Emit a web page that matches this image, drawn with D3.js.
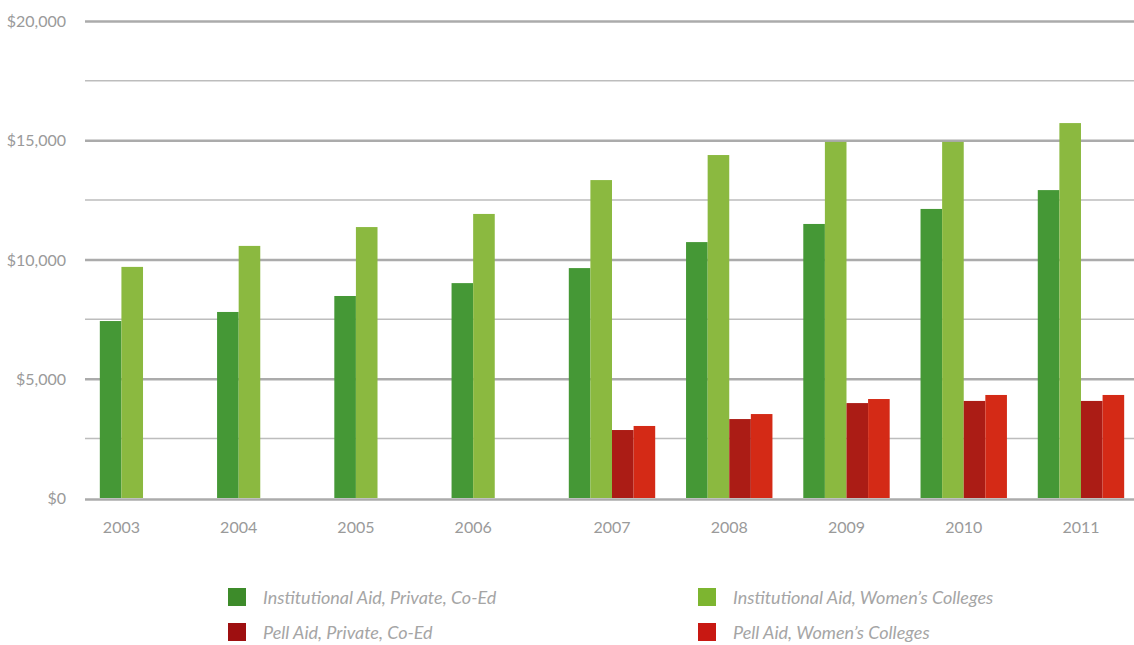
<!DOCTYPE html>
<html>
<head>
<meta charset="utf-8">
<script src="https://cdn.jsdelivr.net/npm/d3@7"></script>
<style>
	body{margin:0;background:#fff;}
	.chart{width:1134px;height:645px;}
	text{font-family:Lato, "Open Sans", sans-serif;}
</style>
</head>
<body>
<div class="chart"></div>
<script>
//Chart values
const years = [2003, 2004, 2005, 2006, 2007, 2008, 2009, 2010, 2011];
const instCoEd = [7420, 7800, 8470, 9010, 9640, 10730, 11490, 12120, 12910];
const instWomen = [9690, 10570, 11360, 11910, 13330, 14380, 14930, 14930, 15720];
const pellCoEd = [null, null, null, null, 2850, 3310, 3980, 4070, 4070];
const pellWomen = [null, null, null, null, 3020, 3520, 4150, 4320, 4320];
const seriesNames = ['Institutional Aid, Private, Co-Ed', 'Institutional Aid, Women\u2019s Colleges',
	'Pell Aid, Private, Co-Ed', 'Pell Aid, Women\u2019s Colleges'];
const seriesColors = ['#459836', '#8bb940', '#ab1c15', '#d42a16'];
const legendColors = ['#3d8b2a', '#7db530', '#9e0f10', '#c81812'];
const yMajorTicks = [0, 5000, 10000, 15000, 20000];
const yMinorTicks = [2500, 7500, 12500, 17500];

//Prep work
const W = 1134;
const H = 645;
const margin = {t:21, r:0, b:147, l:85};
const w = W - margin.l - margin.r;
const h = H - margin.t - margin.b;

const svg = d3.select('.chart')
	.append('svg')
		.attr('width', W)
		.attr('height', H);

const plot = svg.append('g')
	.attr('class','plot')
	.attr('transform', `translate(${margin.l}, ${margin.t})`);

const seriesValues = [instCoEd, instWomen, pellCoEd, pellWomen];

//Scales (the last band runs a little past the right edge, as in the original)
const scaleX = d3.scaleBand().domain(years).range([-0.6, 1054.6]);
const scaleInner = d3.scaleBand().domain(d3.range(4)).range([-43.2, 43.2]);
const scaleY = d3.scaleLinear().domain([0, 20000]).range([h, 0]);

//Gridlines
plot.selectAll('.grid-minor')
	.data(yMinorTicks)
	.enter()
	.append('line').attr('class','grid-minor')
	.attr('x1', 0).attr('x2', w)
	.attr('y1', d => scaleY(d)).attr('y2', d => scaleY(d))
	.style('stroke', '#bdbdbd')
	.style('stroke-width', '1.5px');

plot.selectAll('.grid-major')
	.data(yMajorTicks)
	.enter()
	.append('line').attr('class','grid-major')
	.attr('x1', 0).attr('x2', w)
	.attr('y1', d => scaleY(d) + (d === 0 ? 1.5 : 0.5)).attr('y2', d => scaleY(d) + (d === 0 ? 1.5 : 0.5))
	.style('stroke', '#ababab')
	.style('stroke-width', '2.5px');

//Y axis labels
const fmt = d3.format('$,');
plot.selectAll('.y-label')
	.data(yMajorTicks)
	.enter()
	.append('text').attr('class','y-label')
	.attr('x', -19)
	.attr('y', d => scaleY(d) + 6)
	.attr('text-anchor', 'end')
	.style('font-size', '16px')
	.style('fill', '#9a9a9a')
	.text(d => fmt(d));

//Bars
const groups = plot.selectAll('.year')
	.data(years)
	.enter()
	.append('g').attr('class','year')
	.attr('transform', d => `translate(${scaleX(d) + scaleX.bandwidth() / 2}, 0)`);

groups.selectAll('rect')
	.data(function(d, i){
		return seriesValues.map(function(vals, s){ return {s:s, value:vals[i]}; })
			.filter(function(v){ return v.value !== null; });
	})
	.enter()
	.append('rect')
	.attr('x', d => scaleInner(d.s))
	.attr('width', scaleInner.bandwidth())
	.attr('y', d => scaleY(d.value))
	.attr('height', d => h - scaleY(d.value))
	.style('fill', d => seriesColors[d.s]);

//X labels, centred on the bars that are drawn
groups.append('text')
	.attr('x', function(d, i){
		const drawn = seriesValues.map((vals, s) => vals[i] === null ? null : s).filter(s => s !== null);
		const x0 = scaleInner(d3.min(drawn));
		const x1 = scaleInner(d3.max(drawn)) + scaleInner.bandwidth();
		return (x0 + x1) / 2;
	})
	.attr('y', h + 35)
	.attr('text-anchor', 'middle')
	.style('font-size', '16px')
	.style('fill', '#9a9a9a')
	.text(d => d);

//Legend
const legend = svg.append('g').attr('class','legend');
const legendItems = legend.selectAll('.legend-item')
	.data(seriesNames)
	.enter()
	.append('g').attr('class','legend-item')
	.attr('transform', function(d, i){
		const col = i % 2, row = Math.floor(i / 2);
		return `translate(${228 + col * 470}, ${588 + row * 35})`;
	});

legendItems.append('rect')
	.attr('width', 18).attr('height', 18)
	.style('fill', (d, i) => legendColors[i]);

legendItems.append('text')
	.attr('x', 35)
	.attr('y', 16)
	.style('font-size', '18px')
	.style('font-style', 'italic')
	.style('fill', '#a5a5a5')
	.text(d => d);
</script>
</body>
</html>
